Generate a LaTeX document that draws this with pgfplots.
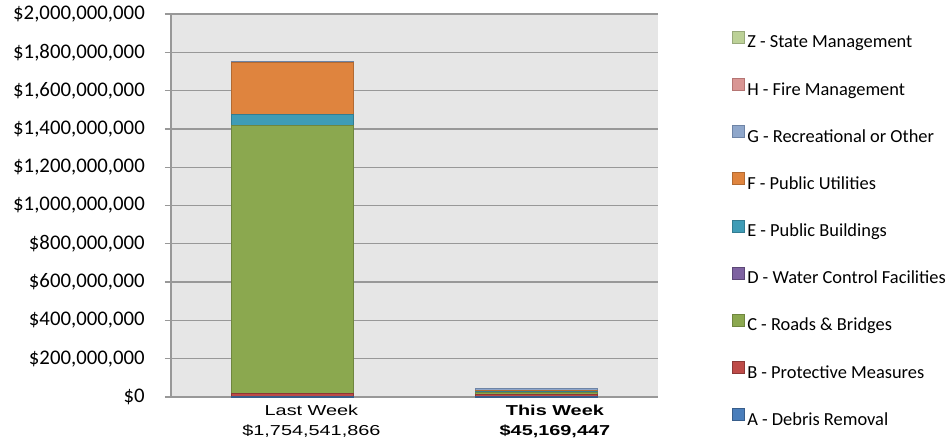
\documentclass[border=0pt]{standalone}
\usepackage{fontspec}
\setmainfont{Carlito}
\newfontfamily\arialfont[FakeStretch=1.38]{Liberation Sans}
\usepackage{pgfplots}
\pgfplotsset{compat=1.18}
\definecolor{gridc}{HTML}{989898}
\definecolor{bgc}{HTML}{E6E6E6}
\definecolor{cA}{HTML}{4A7EBB}\definecolor{dA}{HTML}{385D8A}
\definecolor{cB}{HTML}{BE4B48}\definecolor{dB}{HTML}{8C3836}
\definecolor{cC}{HTML}{8BA84F}\definecolor{dC}{HTML}{6F863F}
\definecolor{cD}{HTML}{7E62A1}\definecolor{dD}{HTML}{5C4776}
\definecolor{cE}{HTML}{3F9CB6}\definecolor{dE}{HTML}{327C91}
\definecolor{cF}{HTML}{DF843E}\definecolor{dF}{HTML}{B26A32}
\definecolor{cG}{HTML}{8FA7CB}\definecolor{dG}{HTML}{6E84A6}
\definecolor{cH}{HTML}{D99694}\definecolor{dH}{HTML}{B57573}
\definecolor{cZ}{HTML}{BCD197}\definecolor{dZ}{HTML}{98A97B}
\pgfplotsset{sq/.style 2 args={fill=#1, draw=#2, line width=0.75pt,
  legend image code/.code={\draw[##1,line width=0.75pt] (0pt,-0.2pt) rectangle (9pt,8.8pt);}}}
\begin{document}
\begin{tikzpicture}
\path[use as bounding box] (-128.25pt,-30pt) rectangle (584.25pt,297.75pt);
\begin{axis}[
  scale only axis, width=365.25pt, height=287.25pt,
  ybar stacked, bar width=91.5pt,
  xmin=-0.5, xmax=1.5, ymin=0, ymax=2000000000,
  xtick={0,1},
  xticklabels={{Last Week\\[-0.5pt]\$1,754,541,866},{\bfseries This Week\\[-0.5pt]\bfseries\$45,169,447}},
  ytick={0,200000000,400000000,600000000,800000000,1000000000,1200000000,1400000000,1600000000,1800000000,2000000000},
  yticklabels={{\$0},{\$200,000,000},{\$400,000,000},{\$600,000,000},{\$800,000,000},{\$1,000,000,000},{\$1,200,000,000},{\$1,400,000,000},{\$1,600,000,000},{\$1,800,000,000},{\$2,000,000,000}},
  scaled y ticks=false,
  axis x line*=bottom, axis y line*=left,
  axis line style={draw=gridc, line width=1pt, -},
  ymajorgrids, grid style={gridc, line width=1pt},
  major tick length=4.5pt, tick align=outside,
  ytick style={draw=gridc, line width=1pt},
  xtick style={draw=none},
  yticklabel style={font=\fontsize{15.6}{17}\selectfont, inner xsep=0pt, xshift=-15pt},
  xticklabel style={align=center, font=\arialfont\fontsize{10.8}{15}\selectfont, inner ysep=0pt, yshift=-1.5pt, xshift=14pt},
  axis background/.style={fill=bgc},
  legend style={at={(1,1)}, anchor=north west, xshift=55.5pt, yshift=-12.5pt,
    draw=none, fill=none, inner sep=0pt, row sep=19.7pt, font=\fontsize{13.8}{16}\selectfont,
    nodes={text height=10pt, text depth=3pt, inner sep=0pt, inner xsep=1.5pt}},
  legend cell align=left,
  reverse legend,
]
\addplot[sq={cA}{dA}] coordinates {(0,5000000) (1,5000000)};
\addlegendentry{A - Debris Removal}
\addplot[sq={cB}{dB}] coordinates {(0,12000000) (1,10000000)};
\addlegendentry{B - Protective Measures}
\addplot[sq={cC}{dC}] coordinates {(0,1402000000) (1,8000000)};
\addlegendentry{C - Roads \& Bridges}
\addplot[sq={cD}{dD}] coordinates {(0,1000000) (1,1000000)};
\addlegendentry{D - Water Control Facilities}
\addplot[sq={cE}{dE}] coordinates {(0,57000000) (1,6000000)};
\addlegendentry{E - Public Buildings}
\addplot[sq={cF}{dF}] coordinates {(0,268000000) (1,5000000)};
\addlegendentry{F - Public Utilities}
\addplot[sq={cG}{dG}] coordinates {(0,5000000) (1,8000000)};
\addlegendentry{G - Recreational or Other}
\addplot[sq={cH}{dH}] coordinates {(0,500000) (1,1000000)};
\addlegendentry{H - Fire Management}
\addplot[sq={cZ}{dZ}] coordinates {(0,4041866) (1,1169447)};
\addlegendentry{Z - State Management}
\end{axis}
\end{tikzpicture}
\end{document}
